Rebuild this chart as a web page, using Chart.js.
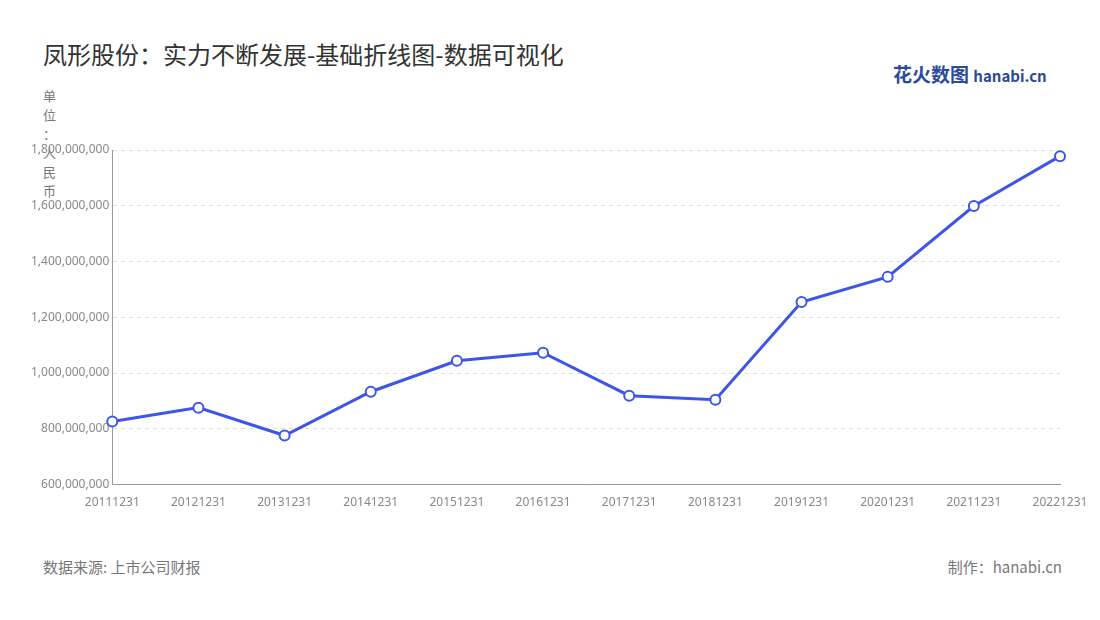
<!DOCTYPE html>
<html>
<head>
<meta charset="utf-8">
<script src="https://cdn.jsdelivr.net/npm/chart.js@4/dist/chart.umd.min.js"></script>
<style>
  body { margin: 0; width: 1100px; height: 620px; background: #fff; font-family: "Noto Sans CJK SC", "Noto Sans", sans-serif; position: relative; overflow: hidden; }
  #title { position: absolute; left: 43px; top: 36px; font-size: 24px; color: #333; }
  #logo { position: absolute; left: 893px; top: 60px; font-size: 19px; font-weight: bold; color: #2b4a9a; }
  #logo span { font-size: 15px; color: #2b4a9a; }
  #unit { position: absolute; left: 43px; top: 86px; font-size: 13px; line-height: 19px; color: #777; }
  #source { position: absolute; left: 43px; top: 556px; font-size: 15px; color: #777; }
  #maker { position: absolute; right: 38px; top: 556px; font-size: 15px; color: #777; }
  #wrap { position: absolute; left: 0; top: 130px; width: 1100px; height: 383px; }
</style>
</head>
<body>
<div id="title">凤形股份：实力不断发展-基础折线图-数据可视化</div>
<div id="logo">花火数图 <span>hanabi.cn</span></div>
<div id="unit">单<br>位<br>：<br>人<br>民<br>币</div>
<div id="wrap"><canvas id="c"></canvas></div>
<div id="source">数据来源: 上市公司财报</div>
<div id="maker">制作：hanabi.cn</div>
<script>
// categories and values
const years = ['20111231', '20121231', '20131231', '20141231', '20151231', '20161231',
               '20171231', '20181231', '20191231', '20201231', '20211231', '20221231'];
const revenue = [826000000, 876000000, 776000000, 933000000, 1044000000, 1073000000,
                 919000000, 904000000, 1255000000, 1345000000, 1599000000, 1778000000];
const yMin = 600000000;
const yMax = 1800000000;
const yStep = 200000000;

const ctx = document.getElementById('c').getContext('2d');
new Chart(ctx, {
    type: 'line',
    data: {
        labels: years,
        datasets: [{
            data: revenue,
            borderColor: '#3d55e8',
            borderWidth: 3,
            pointBackgroundColor: '#fff',
            pointBorderColor: '#3d55e8',
            pointBorderWidth: 2,
            pointRadius: 5,
            tension: 0
        }]
    },
    options: {
        responsive: true,
        maintainAspectRatio: false,
        animation: false,
        layout: { padding: { left: 28, right: 40, top: 20, bottom: 0 } },
        plugins: { legend: { display: false }, tooltip: { enabled: false } },
        scales: {
            x: {
                offset: false,
                grid: { display: false },
                border: { color: '#999' },
                ticks: { color: '#888', font: { size: 12, family: 'Noto Sans' }, maxRotation: 0 }
            },
            y: {
                min: yMin, max: yMax,
                ticks: { stepSize: yStep, color: '#888', font: { size: 12, family: 'Noto Sans' },
                         callback: v => v.toLocaleString('en-US') },
                grid: { color: '#ddd', borderDash: [4, 4], drawTicks: false },
                border: { display: true, color: '#999', dash: [4, 4] }
            }
        }
    }
});
</script>
</body>
</html>
